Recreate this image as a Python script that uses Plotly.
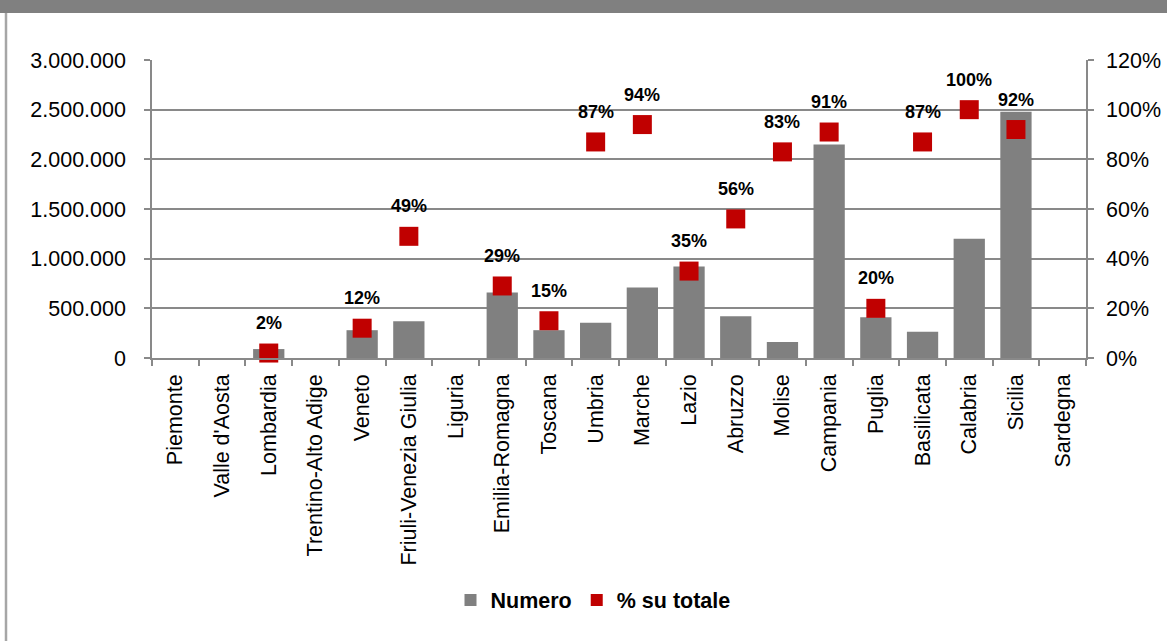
import plotly.graph_objects as go

regions = ["Piemonte", "Valle d'Aosta", "Lombardia", "Trentino-Alto Adige", "Veneto",
           "Friuli-Venezia Giulia", "Liguria", "Emilia-Romagna", "Toscana", "Umbria",
           "Marche", "Lazio", "Abruzzo", "Molise", "Campania", "Puglia", "Basilicata",
           "Calabria", "Sicilia", "Sardegna"]
numero = [0, 0, 90000, 0, 280000, 370000, 0, 660000, 280000, 355000,
          710000, 920000, 420000, 160000, 2150000, 410000, 265000, 1200000, 2480000, 0]
perc = [None, None, 0.02, None, 0.12, 0.49, None, 0.29, 0.15, 0.87,
        0.94, 0.35, 0.56, 0.83, 0.91, 0.20, 0.87, 1.00, 0.92, None]

FONT = "Liberation Sans, Arial, sans-serif"
GRID = "#898989"
FS = 21.5

fig = go.Figure()
fig.add_trace(go.Bar(x=regions, y=numero, name="Numero", marker=dict(color="#808080", line=dict(width=0)),
                     yaxis="y"))
fig.add_trace(go.Scatter(x=regions, y=perc, name="% su totale", mode="markers",
                         marker=dict(symbol="square", size=19, color="#C00000"),
                         yaxis="y2", cliponaxis=False))

for r, p in zip(regions, perc):
    if p is not None:
        fig.add_annotation(x=r, y=p, xref="x", yref="y2", text=f"{round(p*100)}%",
                           showarrow=False, yanchor="middle", yshift=30,
                           font=dict(family=FONT, size=18, color="#000000", weight="bold"))

PW, PH, L, T = 934, 298, 152, 60
def px(x):
    return (x - L) / PW
def py(y):
    return (T + PH - y) / PH

fig.add_shape(type="rect", xref="paper", yref="paper", x0=px(0), x1=px(1167), y0=py(13), y1=py(-2),
              fillcolor="#808080", line=dict(width=0), layer="above")
fig.add_shape(type="line", xref="paper", yref="paper", x0=px(6), x1=px(6), y0=py(13), y1=py(645),
              line=dict(color="#A6A6A6", width=2.5))

fig.update_layout(
    width=1167, height=641,
    margin=dict(l=L, r=1167 - L - PW, t=T, b=641 - T - PH, autoexpand=False),
    paper_bgcolor="white", plot_bgcolor="white",
    separators=",.",
    bargap=0.33,
    font=dict(family=FONT, size=FS, color="#000000"),
    xaxis=dict(type="category", range=[-0.5, len(regions) - 0.5], tickangle=-90, showline=True,
               linecolor=GRID, linewidth=1.5,
               ticks="outside", tickson="boundaries", ticklen=6, tickcolor=GRID, tickwidth=1.5,
               ticklabelstandoff=6, showgrid=False, tickfont=dict(size=FS)),
    yaxis=dict(range=[0, 3000000], dtick=500000, tickformat=",d", showline=True, linecolor=GRID,
               linewidth=1.5, ticks="outside", ticklen=6, tickcolor=GRID, tickwidth=1.5,
               showgrid=True, gridcolor=GRID, gridwidth=1.5, zeroline=False,
               ticklabelstandoff=14, tickfont=dict(size=FS)),
    yaxis2=dict(range=[0, 1.2], dtick=0.2, tickformat=".0%", overlaying="y", side="right",
                showline=True, linecolor=GRID, linewidth=1.5, ticks="outside", ticklen=6,
                tickcolor=GRID, tickwidth=1.5, showgrid=False, zeroline=False,
                ticklabelstandoff=8, tickfont=dict(size=FS)),
    legend=dict(orientation="h", x=px(593), xanchor="center", y=py(600), yanchor="middle",
                font=dict(size=FS, weight="bold"), itemsizing="constant", traceorder="normal",
                bgcolor="rgba(0,0,0,0)"),
    showlegend=True,
)

fig.write_html("out.html", config={"displayModeBar": False},
               post_script="document.body.style.margin='0';document.body.style.padding='0';")
